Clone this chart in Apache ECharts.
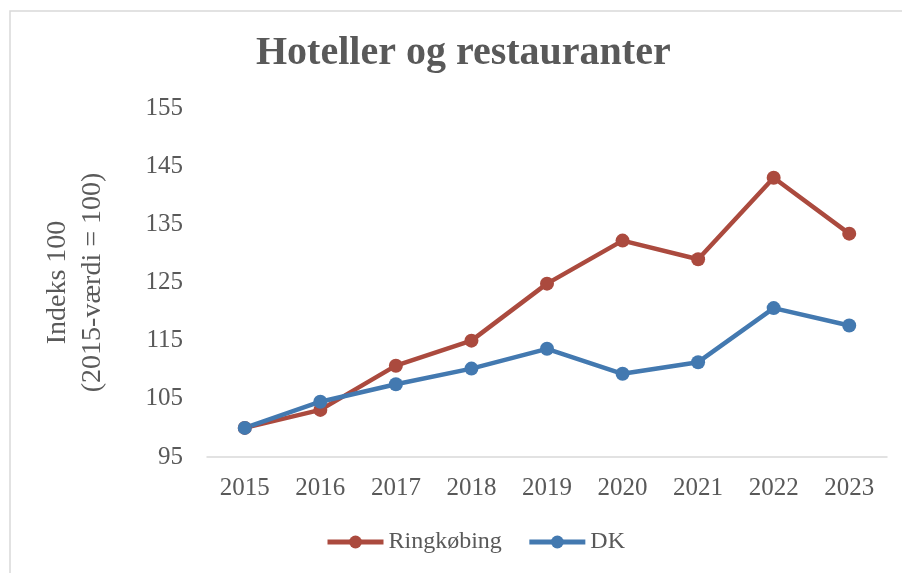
<!DOCTYPE html>
<html>
<head>
<meta charset="utf-8">
<title>Hoteller og restauranter</title>
<script src="https://cdn.jsdelivr.net/npm/echarts@6/dist/echarts.min.js"></script>
<style>
	*{ margin:0; padding:0; }
	#chart{ width:902px; height:573px; background:#fff; }
</style>
</head>
<body>
<div id="chart"></div>
<script>
// data
var years = ['2015', '2016', '2017', '2018', '2019', '2020', '2021', '2022', '2023'];
var ringkobing = [100, 103.1, 110.7, 115.0, 124.8, 132.2, 129.0, 143.0, 133.4];
var dk = [100, 104.5, 107.5, 110.2, 113.6, 109.3, 111.3, 120.6, 117.6];

var textColor = '#595959';
var font = 'Liberation Serif';

var myChart = echarts.init(document.getElementById('chart'));

var option = {
	backgroundColor: '#fff',
	animation: false,
	textStyle: { fontFamily: font },
	title: {
		text: 'Hoteller og restauranter',
		left: 256,
		top: 34,
		padding: 0,
		textStyle: { fontFamily: font, fontSize: 40, fontWeight: 'bold', color: textColor }
	},
	graphic: [{
		type: 'rect',
		shape: { x: 10, y: 11, width: 900, height: 570 },
		style: { fill: 'none', stroke: '#d9d9d9', lineWidth: 1.5 },
		silent: true
	}],
	legend: {
		bottom: 14,
		left: 320,
		itemWidth: 56,
		itemHeight: 16,
		itemGap: 25,
		lineStyle: { width: 5 },
		textStyle: { fontFamily: font, fontSize: 24, color: textColor },
		data: ['Ringkøbing', 'DK']
	},
	grid: { left: 207, right: 15, top: 108, bottom: 116 },
	xAxis: {
		type: 'category',
		data: years,
		axisLine: { lineStyle: { color: '#d9d9d9', width: 1.5 } },
		axisTick: { show: false },
		axisLabel: { color: textColor, fontSize: 25, fontFamily: font, margin: 19 }
	},
	yAxis: {
		type: 'value',
		min: 95,
		max: 155,
		interval: 10,
		name: 'Indeks 100\n(2015-værdi = 100)',
		nameLocation: 'middle',
		nameGap: 97,
		nameTextStyle: { fontFamily: font, fontSize: 28, color: textColor, lineHeight: 35 },
		axisLine: { show: false },
		axisTick: { show: false },
		splitLine: { show: false },
		axisLabel: { color: textColor, fontSize: 25, fontFamily: font, margin: 24 }
	},
	series: [
		{
			name: 'Ringkøbing',
			type: 'line',
			data: ringkobing,
			color: '#ab4a3e',
			symbol: 'circle',
			symbolSize: 14,
			lineStyle: { width: 4.5 }
		},
		{
			name: 'DK',
			type: 'line',
			data: dk,
			color: '#4379b0',
			symbol: 'circle',
			symbolSize: 14,
			lineStyle: { width: 4.5 }
		}
	]
};

myChart.setOption(option);
</script>
</body>
</html>
